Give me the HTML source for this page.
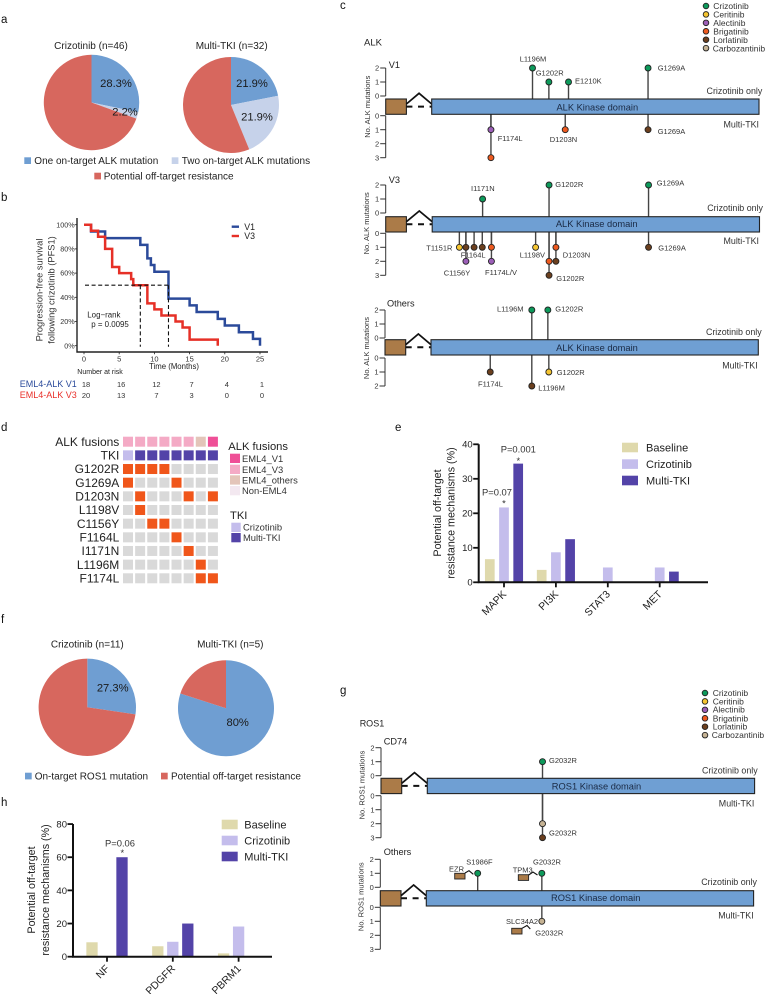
<!DOCTYPE html>
<html lang="en">
<head>
<meta charset="utf-8">
<title>Resistance mechanisms figure</title>
<style>
html,body{margin:0;padding:0;background:#fff;}
svg{display:block;}
text{font-family:"Liberation Sans",Arial,sans-serif;fill:#222;}
.ltr{font-size:11.5px;fill:#111;}
.t10{font-size:10px;}
.pl{font-size:11.2px;text-anchor:middle;fill:#1a1a1a;}
.mut{font-size:7.5px;fill:#333;}
.side{font-size:8.9px;text-anchor:end;fill:#333;}
.ttl{font-size:9.2px;fill:#222;}
.dom{font-size:9.3px;text-anchor:middle;fill:#1a2a44;}
.drug{font-size:8.5px;fill:#333;}
.tick{font-size:7.5px;fill:#333;}
.yt{font-size:7.5px;text-anchor:middle;fill:#333;}
.km{font-size:7.5px;fill:#333;}
.kmy{font-size:9.3px;text-anchor:middle;fill:#333;}
.onc{font-size:12px;text-anchor:end;fill:#222;}
.olg{font-size:9.4px;fill:#333;}
.ohd{font-size:11.2px;fill:#222;}
.bt{font-size:9.5px;text-anchor:end;fill:#222;}
.bx{font-size:10.5px;text-anchor:end;fill:#222;}
.by{font-size:10.7px;text-anchor:middle;fill:#222;}
.bl{font-size:11px;fill:#222;}
.pv{font-size:9.4px;text-anchor:middle;fill:#333;}
</style>
</head>
<body>
<svg id="fig" width="765" height="994" viewBox="0 0 765 994" xmlns="http://www.w3.org/2000/svg">
<rect width="765" height="994" fill="#fff"/>
<g id="marks"></g>

<g>
<text class="ltr" x="1" y="23">a</text>
<text class="ltr" x="1" y="201">b</text>
<text class="ltr" x="340" y="9">c</text>
<text class="ltr" x="1" y="431">d</text>
<text class="ltr" x="395" y="431">e</text>
<text class="ltr" x="1" y="623">f</text>
<text class="ltr" x="340" y="694">g</text>
<text class="ltr" x="1" y="806">h</text>
</g>

<g>
<text class="t10" x="91" y="49" text-anchor="middle">Crizotinib (n=46)</text>
<text class="t10" x="231.7" y="49" text-anchor="middle">Multi-TKI (n=32)</text>
<text class="pl" x="116" y="87">28.3%</text>
<text class="pl" x="125" y="115.4">2.2%</text>
<text class="pl" x="252" y="87">21.9%</text>
<text class="pl" x="257" y="120.7">21.9%</text>
<rect x="24.3" y="157.3" width="6.7" height="6.7" fill="#6f9ed2"/>
<text class="t10" x="34.3" y="164">One on-target ALK mutation</text>
<rect x="171.7" y="157.3" width="6.7" height="6.7" fill="#c6d2ea"/>
<text class="t10" x="181.7" y="164">Two on-target ALK mutations</text>
<rect x="94.3" y="172.7" width="6.7" height="6.7" fill="#d7675e"/>
<text class="t10" x="103.7" y="179.3">Potential off-target resistance</text>
</g>

<g>
<text class="kmy" transform="translate(42.5,290) rotate(-90)">Progression-free survival</text>
<text class="kmy" transform="translate(54.5,290) rotate(-90)">following crizotinib (PFS1)</text>
<text x="174" y="369" font-size="7.8" text-anchor="middle" fill="#333">Time (Months)</text>
<text x="244.3" y="230" font-size="8.8">V1</text>
<text x="244.3" y="239.2" font-size="8.8">V3</text>
<text x="87.3" y="317.5" font-size="7.9" fill="#333">Log−rank</text>
<text x="91.3" y="327" font-size="7.9" fill="#333">p = 0.0095</text>
<text x="77.3" y="374" font-size="7" fill="#333">Number at risk</text>
<text x="19.7" y="387" font-size="9" style="fill:#2b4b9b">EML4-ALK V1</text>
<text x="19.7" y="398" font-size="9" style="fill:#e8302a">EML4-ALK V3</text>
</g>

<g>
<text class="drug" x="713.3" y="9">Crizotinib</text>
<text class="drug" x="713.3" y="17.7">Ceritinib</text>
<text class="drug" x="713.3" y="26">Alectinib</text>
<text class="drug" x="713.3" y="34.7">Brigatinib</text>
<text class="drug" x="713.3" y="43">Lorlatinib</text>
<text class="drug" x="712.7" y="51.3">Carbozantinib</text>
</g>

<g>
<text x="364" y="45.5" font-size="9.5" fill="#333">ALK</text>
<text class="ttl" x="388.7" y="68">V1</text>
<text class="yt" transform="translate(370,106.7) rotate(-90)">No. ALK mutations</text>
<text class="dom" x="597.3" y="110.5">ALK Kinase domain</text>
<text class="side" x="762.3" y="94">Crizotinib only</text>
<text class="side" x="759" y="127.7">Multi-TKI</text>
<text class="mut" x="519.7" y="61.7">L1196M</text>
<text class="mut" x="535.7" y="75.7">G1202R</text>
<text class="mut" x="575" y="83.7">E1210K</text>
<text class="mut" x="657.7" y="70.7">G1269A</text>
<text class="mut" x="497.7" y="141">F1174L</text>
<text class="mut" x="549.7" y="142">D1203N</text>
<text class="mut" x="657.7" y="134">G1269A</text>

<text class="ttl" x="388.7" y="183">V3</text>
<text class="yt" transform="translate(369,223.3) rotate(-90)">No. ALK mutations</text>
<text class="dom" x="596.7" y="227.2">ALK Kinase domain</text>
<text class="side" x="763" y="211">Crizotinib only</text>
<text class="side" x="759" y="244">Multi-TKI</text>
<text class="mut" x="471" y="191">I1171N</text>
<text class="mut" x="555.3" y="187">G1202R</text>
<text class="mut" x="656.7" y="185.7">G1269A</text>
<text class="mut" x="426.3" y="250.3">T1151R</text>
<text class="mut" x="460.7" y="257.7">F1164L</text>
<text class="mut" x="443.7" y="275.7">C1156Y</text>
<text class="mut" x="485" y="275">F1174L/V</text>
<text class="mut" x="519.7" y="257.7">L1198V</text>
<text class="mut" x="562.7" y="257.7">D1203N</text>
<text class="mut" x="556.3" y="281">G1202R</text>
<text class="mut" x="658.3" y="250.7">G1269A</text>

<text class="ttl" x="387" y="306.5">Others</text>
<text class="yt" transform="translate(369,348) rotate(-90)">No. ALK mutations</text>
<text class="dom" x="597" y="350.9">ALK Kinase domain</text>
<text class="side" x="761.7" y="335">Crizotinib only</text>
<text class="side" x="757.7" y="368.3">Multi-TKI</text>
<text class="mut" x="497" y="311.4">L1196M</text>
<text class="mut" x="555.3" y="311.4">G1202R</text>
<text class="mut" x="478" y="386.7">F1174L</text>
<text class="mut" x="556.7" y="375">G1202R</text>
<text class="mut" x="538.3" y="390.4">L1196M</text>
</g>

<g>
<text class="ohd" x="228.3" y="450">ALK fusions</text>
<rect x="230" y="453.7" width="10" height="9.3" fill="#ef4f97"/>
<rect x="230" y="464.7" width="10" height="9.3" fill="#f4aac5"/>
<rect x="230" y="475.3" width="10" height="9.3" fill="#e3c5b9"/>
<rect x="230" y="486" width="10" height="9.3" fill="#f3e8f0"/>
<text class="olg" x="242" y="462.2">EML4_V1</text>
<text class="olg" x="242" y="472.9">EML4_V3</text>
<text class="olg" x="242" y="483.5">EML4_others</text>
<text class="olg" x="242" y="494.2">Non-EML4</text>
<text class="ohd" x="230" y="519">TKI</text>
<rect x="231.3" y="522.7" width="9.4" height="9.3" fill="#c4bdec"/>
<rect x="231.3" y="533" width="9.4" height="9.3" fill="#5343a8"/>
<text class="olg" x="243" y="530.5">Crizotinib</text>
<text class="olg" x="243" y="541.2">Multi-TKI</text>
</g>

<g>
<text class="by" transform="translate(441,513) rotate(-90)">Potential off-target</text>
<text class="by" transform="translate(454.5,513) rotate(-90)">resistance mechanisms (%)</text>
<text class="pv" x="518.3" y="452.7">P=0.001</text>
<text class="pv" x="518.3" y="464">*</text>
<text class="pv" x="497" y="495.7">P=0.07</text>
<text class="pv" x="504" y="506.7">*</text>
<rect x="622" y="442.7" width="16" height="9.6" fill="#dfd9ac"/>
<rect x="622" y="459.3" width="16" height="9.6" fill="#c4bdec"/>
<rect x="622" y="475.7" width="16" height="9.6" fill="#5343a8"/>
<text class="bl" x="646" y="451.4">Baseline</text>
<text class="bl" x="646" y="468">Crizotinib</text>
<text class="bl" x="646" y="484.4">Multi-TKI</text>
</g>

<g>
<text class="t10" x="87.3" y="647.7" text-anchor="middle">Crizotinib (n=11)</text>
<text class="t10" x="230.3" y="647.7" text-anchor="middle">Multi-TKI (n=5)</text>
<text class="pl" x="112.7" y="691.4">27.3%</text>
<text class="pl" x="237.7" y="726">80%</text>
<rect x="25" y="772.7" width="6.7" height="6.7" fill="#6f9ed2"/>
<text class="t10" x="34.7" y="779.3">On-target ROS1 mutation</text>
<rect x="161" y="772.7" width="6.7" height="6.7" fill="#d7675e"/>
<text class="t10" x="171" y="779.3">Potential off-target resistance</text>
</g>

<g>
<text class="drug" x="712.7" y="696">Crizotinib</text>
<text class="drug" x="712.7" y="704.3">Ceritinib</text>
<text class="drug" x="712.7" y="712.7">Alectinib</text>
<text class="drug" x="712.7" y="721.3">Brigatinib</text>
<text class="drug" x="712.7" y="729.7">Lorlatinib</text>
<text class="drug" x="711.7" y="738">Carbozantinib</text>
</g>

<g>
<text x="359.7" y="726.5" font-size="9" fill="#333">ROS1</text>
<text class="ttl" x="383.7" y="744.7">CD74</text>
<text class="yt" transform="translate(364.3,785) rotate(-90)">No. ROS1 mutations</text>
<text class="dom" x="596.5" y="789.5">ROS1 Kinase domain</text>
<text class="side" x="757.7" y="773.7">Crizotinib only</text>
<text class="side" x="754.3" y="806.7">Multi-TKI</text>
<text class="mut" x="549" y="763">G2032R</text>
<text class="mut" x="549" y="835.4">G2032R</text>

<text class="ttl" x="383.7" y="855">Others</text>
<text class="yt" transform="translate(363.7,896.7) rotate(-90)">No. ROS1 mutations</text>
<text class="dom" x="595.7" y="901.2">ROS1 Kinase domain</text>
<text class="side" x="757" y="885">Crizotinib only</text>
<text class="side" x="753.7" y="918.3">Multi-TKI</text>
<text class="mut" x="466.3" y="864.7">S1986F</text>
<text class="mut" x="533" y="864.7">G2032R</text>
<text class="mut" x="449" y="871.4">EZR</text>
<text class="mut" x="512.7" y="872.7">TPM3</text>
<text class="mut" x="506" y="924">SLC34A2</text>
<text class="mut" x="535.3" y="935.4">G2032R</text>
</g>

<g>
<text class="by" transform="translate(35,890) rotate(-90)">Potential off-target</text>
<text class="by" transform="translate(49,890) rotate(-90)">resistance mechanisms (%)</text>
<text class="pv" x="120" y="846.3">P=0.06</text>
<text class="pv" x="122.3" y="856">*</text>
<rect x="221.7" y="819.7" width="16" height="9.6" fill="#dfd9ac"/>
<rect x="221.7" y="835.7" width="16" height="9.6" fill="#c4bdec"/>
<rect x="221.7" y="851.7" width="16" height="9.6" fill="#5343a8"/>
<text class="bl" x="244.3" y="828.4">Baseline</text>
<text class="bl" x="244.3" y="844.4">Crizotinib</text>
<text class="bl" x="244.3" y="860.4">Multi-TKI</text>
</g>
</svg>

<script>
// ---- Panel a / f pie values (percent) ----
const pieA1Values = [28.3, 2.2, 69.5];
const pieA2Values = [21.9, 21.9, 56.2];
const pieF1Values = [27.3, 72.7];
const pieF2Values = [80, 20];

// ---- Panel b Kaplan-Meier ----
const v1Times = [0, 1, 3, 8, 9, 9.5, 10, 12, 15, 16, 19, 20, 22, 24, 25];
const v1Survival = [100, 94.4, 88.9, 83.3, 72.2, 66.7, 61.1, 38.9, 33.3, 27.8, 22.2, 16.7, 11.1, 5.6, 0];
const v3Times = [0, 1, 2, 3, 4, 5, 6.7, 7, 9, 10, 11, 13, 14, 15, 19];
const v3Survival = [100, 95, 90, 80, 65, 60, 55, 50, 35, 30, 25, 20, 15, 5, 0];
const medianTimes = [8, 12];
const medianLevel = 50;
const kmYTicks = [0, 20, 40, 60, 80, 100];
const kmXTicks = [0, 5, 10, 15, 20, 25];
const riskV1 = [18, 16, 12, 7, 4, 1];
const riskV3 = [20, 13, 7, 3, 0, 0];

// ---- Lollipop panels: site along domain (% of length), count, drug ----
const drugNames = ['Crizotinib', 'Ceritinib', 'Alectinib', 'Brigatinib', 'Lorlatinib', 'Carbozantinib'];
const alkV1Up = [[30.8, 2, 'Crizotinib'], [35.8, 1, 'Crizotinib'], [41.8, 1, 'Crizotinib'], [66.1, 2, 'Crizotinib']];
const alkV1Down = [[18.1, 3, 'Brigatinib'], [18.1, 1, 'Alectinib'], [40.8, 1, 'Brigatinib'], [66.1, 1, 'Lorlatinib']];
const alkV3Up = [[15.4, 1, 'Crizotinib'], [35.7, 2, 'Crizotinib'], [66.1, 2, 'Crizotinib']];
const alkV3Down = [[8.3, 1, 'Ceritinib'], [10.3, 2, 'Alectinib'], [10.3, 1, 'Lorlatinib'], [12.8, 1, 'Lorlatinib'], [15.3, 1, 'Lorlatinib'], [18.1, 2, 'Alectinib'], [18.1, 1, 'Brigatinib'], [31.6, 1, 'Ceritinib'], [35.7, 3, 'Lorlatinib'], [35.7, 2, 'Brigatinib'], [37.8, 2, 'Lorlatinib'], [37.8, 1, 'Brigatinib'], [66.1, 1, 'Lorlatinib']];
const alkOtherUp = [[30.8, 2, 'Crizotinib'], [35.7, 2, 'Crizotinib']];
const alkOtherDown = [[18.1, 1, 'Lorlatinib'], [30.8, 2, 'Lorlatinib'], [36, 1, 'Ceritinib']];
const rosCd74Up = [[35.2, 1, 'Crizotinib']];
const rosCd74Down = [[35.2, 3, 'Lorlatinib'], [35.2, 2, 'Carbozantinib']];
const rosOtherUp = [[15.7, 1, 'Crizotinib'], [35.3, 1, 'Crizotinib']];
const rosOtherDown = [[35.3, 1, 'Carbozantinib']];

// ---- Panel d oncoprint ----
const geneRows = ['G1202R', 'G1269A', 'D1203N', 'L1198V', 'C1156Y', 'F1164L', 'I1171N', 'L1196M', 'F1174L'];
const geneMatrix = [
  [1, 1, 1, 1, 0, 0, 0, 0],
  [1, 0, 0, 0, 1, 0, 0, 0],
  [0, 1, 0, 0, 0, 1, 0, 1],
  [0, 1, 0, 0, 0, 0, 0, 0],
  [0, 0, 1, 1, 0, 0, 0, 0],
  [0, 0, 0, 0, 1, 0, 0, 0],
  [0, 0, 0, 0, 0, 1, 0, 0],
  [0, 0, 0, 0, 0, 0, 1, 0],
  [0, 0, 0, 0, 0, 0, 1, 1]
];
const fusionRow = ['V3', 'V3', 'V3', 'V3', 'V3', 'V3', 'others', 'V1'];
const tkiRow = ['Crizotinib', 'Multi-TKI', 'Multi-TKI', 'Multi-TKI', 'Multi-TKI', 'Multi-TKI', 'Multi-TKI', 'Multi-TKI'];

// ---- Panel e bars (%) ----
const eCategories = ['MAPK', 'PI3K', 'STAT3', 'MET'];
const eBaseline = [6.7, 3.6, 0, 0];
const eCrizotinib = [21.7, 8.7, 4.3, 4.3];
const eMultiTki = [34.4, 12.5, 0, 3.1];
const eTicks = [0, 10, 20, 30, 40];

// ---- Panel h bars (%) ----
const hCategories = ['NF', 'PDGFR', 'PBRM1'];
const hBaseline = [8.7, 6.3, 2];
const hCrizotinib = [0, 9, 18.2];
const hMultiTki = [60, 20, 0];
const hTicks = [0, 20, 40, 60, 80];

const NS = 'http://www.w3.org/2000/svg';
const root = document.getElementById('marks');
function mk(tag, attrs, parent) {
  const el = document.createElementNS(NS, tag);
  for (const k in attrs) el.setAttribute(k, attrs[k]);
  (parent || root).appendChild(el);
  return el;
}
function group(parent) { return mk('g', {}, parent); }

// ---------- pies ----------
const blue = '#6f9ed2', lightBlue = '#c6d2ea', red = '#d7675e';
function drawPie(cx, cy, r, values, colors) {
  const g = group();
  
  
  const total = values.reduce(function (a, b) { return a + b; }, 0);
  let acc = 0;
  values.forEach(function (v, i) {
    const a0 = acc / total * 2 * Math.PI;
    acc += v;
    const a1 = acc / total * 2 * Math.PI;
    const large = a1 - a0 > Math.PI ? 1 : 0;
    const d = 'M' + cx + ' ' + cy + 'L' + (cx + r * Math.sin(a0)) + ' ' + (cy - r * Math.cos(a0)) +
      'A' + r + ' ' + r + ' 0 ' + large + ' 1 ' + (cx + r * Math.sin(a1)) + ' ' + (cy - r * Math.cos(a1)) + 'Z';
    const p = mk('path', { d: d, fill: colors[i] }, g);
    
    
  });
}
drawPie(91.5, 102.5, 47.7, pieA1Values, [blue, lightBlue, red]);
drawPie(231, 105, 48, pieA2Values, [blue, lightBlue, red]);
drawPie(87.3, 707.3, 48.7, pieF1Values, [blue, red]);
drawPie(226, 708.3, 48, pieF2Values, [blue, red]);

// ---------- Kaplan-Meier ----------
(function () {
  const x = function (t) { return 84 + t * 7.04; };
  const y = function (s) { return 345.7 - s * 1.21; };
  const g = group();
  
  
  function stepPath(ts, ss) {
    let d = 'M' + x(ts[0]) + ' ' + y(ss[0]);
    for (let i = 1; i < ts.length; i++) d += 'H' + x(ts[i]) + 'V' + y(ss[i]);
    return d;
  }
  const curve1 = mk('path', { d: stepPath(v1Times, v1Survival), fill: 'none', stroke: '#2b4a9a', 'stroke-width': 2.5 }, g);
  
  
  const curve3 = mk('path', { d: stepPath(v3Times, v3Survival), fill: 'none', stroke: '#e63027', 'stroke-width': 2.5 }, g);
  
  
  const maxMedian = Math.max.apply(null, medianTimes);
  const hd = mk('line', { x1: x(0) + 1, x2: x(maxMedian), y1: y(medianLevel), y2: y(medianLevel), stroke: '#111', 'stroke-width': 1.1, 'stroke-dasharray': '4 2.6' }, g);
  
  
  medianTimes.forEach(function (t) {
    const v = mk('line', { x1: x(t), x2: x(t), y1: y(medianLevel), y2: y(0) + 1, stroke: '#111', 'stroke-width': 1.1, 'stroke-dasharray': '4 2.6' }, g);
    
    
  });
  const ax = mk('path', { d: 'M77 218V352H268', fill: 'none', stroke: '#222', 'stroke-width': 1.4 }, g);
  
  
  kmYTicks.forEach(function (s) {
    const tk = mk('line', { x1: 74.7, x2: 77, y1: y(s), y2: y(s), stroke: '#222', 'stroke-width': 0.8 }, g);
    
    
    const lb = mk('text', { x: 74.7, y: y(s) + 2.6, 'text-anchor': 'end', 'class': 'km', style: 'font-size:7.2px' }, g);
    lb.textContent = s + '%';
    
    
  });
  kmXTicks.forEach(function (t, i) {
    const tk = mk('line', { x1: x(t), x2: x(t), y1: 352, y2: 354.3, stroke: '#222', 'stroke-width': 0.8 }, g);
    
    
    const lb = mk('text', { x: x(t), y: 361.4, 'text-anchor': 'middle', 'class': 'km' }, g);
    lb.textContent = t;
    
    
    const r1 = mk('text', { x: x(t) + 2, y: 387, 'text-anchor': 'middle', 'class': 'km' }, g);
    r1.textContent = riskV1[i];
    
    
    const r3 = mk('text', { x: x(t) + 2, y: 398, 'text-anchor': 'middle', 'class': 'km' }, g);
    r3.textContent = riskV3[i];
    
    
  });
  const l1 = mk('line', { x1: 231.7, x2: 239, y1: 226.7, y2: 226.7, stroke: '#2b4a9a', 'stroke-width': 2.4 }, g);
  
  
  const l3 = mk('line', { x1: 231.7, x2: 239, y1: 236, y2: 236, stroke: '#e63027', 'stroke-width': 2.4 }, g);
  
  
})();

// ---------- lollipop panels ----------
const drugColor = { Crizotinib: '#0d9a5b', Ceritinib: '#f5c531', Alectinib: '#9c5fb8', Brigatinib: '#ee5a1f', Lorlatinib: '#6b3f1e', Carbozantinib: '#c6b394' };
function drawDrugLegend(cx, ys) {
  drugNames.forEach(function (name, i) {
    const c = mk('circle', { cx: cx, cy: ys + i * 8.43, r: 2.8, fill: drugColor[name], stroke: '#222', 'stroke-width': 0.9 });
    
    
  });
}
drawDrugLegend(706, 6);
drawDrugLegend(705, 693);

function drawGene(cfg, up, down) {
  const g = group();
  
  
  const unit = 14, bh = 15.3, bw = 20.7;
  const left = cfg.boxLeft, top = cfg.boxTop, dl = cfg.domainLeft, dw = 327.3;
  const yUp = function (n) { return cfg.up0 - n * unit; };
  const yDn = function (n) { return cfg.down0 + n * unit; };
  const xPos = function (p) { return dl + p / 100 * dw; };

  // axes
  const axisPieces = [[yUp(cfg.upMax), yUp(0)], [yDn(0), yDn(cfg.downMax)]];
  axisPieces.forEach(function (seg) {
    const a = mk('line', { x1: left, x2: left, y1: seg[0], y2: seg[1], stroke: '#333', 'stroke-width': 1 }, g);
    
    
  });
  function tick(yv, n) {
    const t = mk('line', { x1: left - 5.5, x2: left, y1: yv, y2: yv, stroke: '#333', 'stroke-width': 1 }, g);
    
    
    const lb = mk('text', { x: left - 6.5, y: yv + 2.6, 'text-anchor': 'end', 'class': 'tick' }, g);
    lb.textContent = n;
    
    
  }
  for (let n = 0; n <= cfg.upMax; n++) tick(yUp(n), n);
  for (let n = 0; n <= cfg.downMax; n++) tick(yDn(n), n);

  // stems
  up.forEach(function (m) {
    const s = mk('line', { x1: xPos(m[0]), x2: xPos(m[0]), y1: yUp(m[1]), y2: top, stroke: '#444', 'stroke-width': 1.4 }, g);
    
    
  });
  down.forEach(function (m) {
    const s = mk('line', { x1: xPos(m[0]), x2: xPos(m[0]), y1: top + bh, y2: yDn(m[1]), stroke: '#444', 'stroke-width': 1.4 }, g);
    
    
  });

  // exon, junction, domain
  const box = mk('rect', { x: left, y: top, width: bw, height: bh, fill: '#ab7b48', stroke: '#222', 'stroke-width': 1.1 }, g);
  
  
  const pk = (left + bw + dl) / 2;
  const peak = mk('path', { d: 'M' + (left + bw) + ' ' + (top + 5) + 'L' + pk + ' ' + (top - 5.7) + 'L' + (dl + 0.6) + ' ' + (top + 5.5), fill: 'none', stroke: '#111', 'stroke-width': 1.7 }, g);
  
  
  const dash = mk('line', { x1: left + bw, x2: dl, y1: top + 7.6, y2: top + 7.6, stroke: '#111', 'stroke-width': 2, 'stroke-dasharray': '6 5.6' }, g);
  
  
  const dom = mk('rect', { x: dl, y: top, width: dw, height: bh, fill: '#6f9fd3', stroke: '#222', 'stroke-width': 1.1 }, g);
  
  

  // heads
  up.forEach(function (m) {
    const c = mk('circle', { cx: xPos(m[0]), cy: yUp(m[1]), r: 3, fill: drugColor[m[2]], stroke: '#222', 'stroke-width': 0.9 }, g);
    
    
  });
  down.forEach(function (m) {
    const c = mk('circle', { cx: xPos(m[0]), cy: yDn(m[1]), r: 3, fill: drugColor[m[2]], stroke: '#222', 'stroke-width': 0.9 }, g);
    
    
  });
}
drawGene({ boxLeft: 385.7, boxTop: 99, domainLeft: 431.7, up0: 96, down0: 115.7, upMax: 2, downMax: 3 }, alkV1Up, alkV1Down);
drawGene({ boxLeft: 385.7, boxTop: 216.7, domainLeft: 432.2, up0: 213, down0: 233.3, upMax: 2, downMax: 3 }, alkV3Up, alkV3Down);
drawGene({ boxLeft: 385, boxTop: 339.7, domainLeft: 431, up0: 338, down0: 358, upMax: 2, downMax: 2 }, alkOtherUp, alkOtherDown);
drawGene({ boxLeft: 381, boxTop: 778.3, domainLeft: 427.3, up0: 775.7, down0: 795.7, upMax: 2, downMax: 3 }, rosCd74Up, rosCd74Down);
drawGene({ boxLeft: 380.3, boxTop: 890.7, domainLeft: 426.3, up0: 887.3, down0: 907.3, upMax: 2, downMax: 3 }, rosOtherUp, rosOtherDown);

// small fusion-partner glyphs in the ROS1 "Others" row
function miniFusion(x, y, wiggle) {
  const b = mk('rect', { x: x, y: y, width: 10.3, height: 5.7, fill: '#ab7b48', stroke: '#222', 'stroke-width': 0.9 });
  
  
  const w = mk('path', { d: wiggle, fill: 'none', stroke: '#111', 'stroke-width': 1.1 });
  
  
}
miniFusion(454.7, 873.3, 'M465 873L469 870.7L473.3 874.3');
miniFusion(518.3, 874.7, 'M528.7 875L533 872L537.5 875');
miniFusion(511.7, 928.3, 'M522 928.3L527 925.5L530.3 929');

// ---------- oncoprint ----------
(function () {
  const g = group();
  
  
  const colX = function (c) { return 123 + c * 12.13; };
  const rowY = function (r) { return 436.7 + r * 13.66; };
  const fusionColor = { V1: '#ef4f97', V3: '#f4aac5', others: '#e3c5b9' };
  const tkiColor = { 'Crizotinib': '#c4bdec', 'Multi-TKI': '#5343a8' };
  function cell(c, r, fill) {
    const rc = mk('rect', { x: colX(c), y: rowY(r), width: 10, height: 10, fill: fill }, g);
    
    
  }
  function rowLabel(r, s) {
    const t = mk('text', { x: 119.3, y: rowY(r) + 9.2, 'class': 'onc' }, g);
    t.textContent = s;
    
    
  }
  rowLabel(0, 'ALK fusions');
  rowLabel(1, 'TKI');
  fusionRow.forEach(function (v, c) { cell(c, 0, fusionColor[v]); });
  tkiRow.forEach(function (v, c) { cell(c, 1, tkiColor[v]); });
  geneRows.forEach(function (name, i) {
    rowLabel(i + 2, name);
    geneMatrix[i].forEach(function (v, c) { cell(c, i + 2, v ? '#f0561a' : '#d9d9d9'); });
  });
})();

// ---------- bar charts ----------
function drawBars(cfg, cats, series, ticks) {
  const g = group();
  
  
  const y = function (v) { return cfg.y0 - v * cfg.scale; };
  const colors = ['#dfd9ac', '#c4bdec', '#5343a8'];
  cats.forEach(function (cat, ci) {
    const cx = cfg.first + ci * cfg.spacing;
    series.forEach(function (s, si) {
      const v = s[ci];
      if (v <= 0) return;
      const r = mk('rect', { x: cx + (si - 1) * cfg.pitch - cfg.barW / 2, y: y(v), width: cfg.barW, height: cfg.y0 - y(v), fill: colors[si] }, g);
      
      
    });
    const t = mk('line', { x1: cx, x2: cx, y1: cfg.y0, y2: cfg.y0 + 5, stroke: '#111', 'stroke-width': 1.8 }, g);
    
    
    const lb = mk('text', { 'class': 'bx', transform: 'translate(' + (cx + 3) + ',' + (cfg.y0 + 12.5) + ') rotate(-45)' }, g);
    lb.textContent = cat;
    
    
  });
  const ax = mk('path', { d: 'M' + cfg.x0 + ' ' + y(ticks[ticks.length - 1]) + 'V' + cfg.y0 + 'H' + cfg.xEnd, fill: 'none', stroke: '#111', 'stroke-width': 2 }, g);
  
  
  ticks.forEach(function (v) {
    const t = mk('line', { x1: cfg.x0 - 5.5, x2: cfg.x0, y1: y(v), y2: y(v), stroke: '#111', 'stroke-width': 1.8 }, g);
    
    
    const lb = mk('text', { x: cfg.x0 - 6, y: y(v) + 3.4, 'class': 'bt' }, g);
    lb.textContent = v;
    
    
  });
}
drawBars({ x0: 478.7, y0: 582.3, scale: 3.45, first: 504, spacing: 51.9, pitch: 14.2, barW: 9.7, xEnd: 708 }, eCategories, [eBaseline, eCrizotinib, eMultiTki], eTicks);
drawBars({ x0: 73, y0: 956.7, scale: 1.658, first: 107, spacing: 65.8, pitch: 15, barW: 11.3, xEnd: 272 }, hCategories, [hBaseline, hCrizotinib, hMultiTki], hTicks);
</script>
</body>
</html>
